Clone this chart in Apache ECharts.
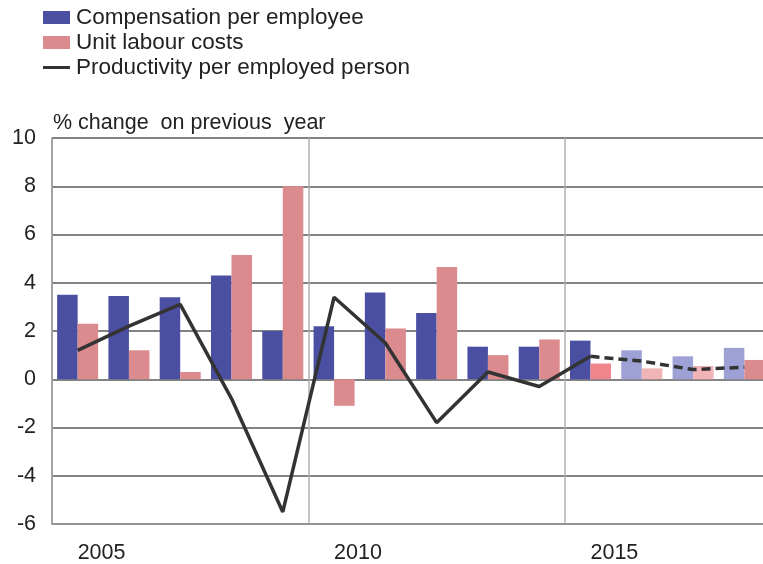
<!DOCTYPE html>
<html>
<head>
<meta charset="utf-8">
<script src="https://cdn.jsdelivr.net/npm/echarts@6/dist/echarts.min.js"></script>
<style>
  html, body { margin: 0; padding: 0; background: #fff; overflow: hidden; }
  /* the plot runs a little past the right edge of the picture */
  #main { width: 770px; height: 564px; }
</style>
</head>
<body>
<div id="main"></div>
<script>
// years on the x axis
var years = ['2005', '2006', '2007', '2008', '2009', '2010', '2011', '2012', '2013', '2014', '2015', '2016', '2017', '2018'];

// % change on previous year
var compensation = [3.5, 3.45, 3.4, 4.3, 2.0, 2.2, 3.6, 2.75, 1.35, 1.35, 1.6, 1.2, 0.95, 1.3];
var unitLabourCosts = [2.3, 1.2, 0.3, 5.15, 8.0, -1.1, 2.1, 4.65, 1.0, 1.65, 0.65, 0.45, 0.55, 0.8];
var productivity = [1.2, 2.2, 3.1, -0.8, -5.5, 3.4, 1.5, -1.8, 0.3, -0.3, 0.95, 0.75, 0.4, 0.5];

// productivity is solid up to this year, dashed after
var lastActual = 10;

var font = 'Liberation Sans, Arial, sans-serif';
var fs = 21.5;

// bar colours (lighter shades for the later years)
function compColor(i) {
  return i >= 11 ? '#9ea1d6' : '#4b4fa2';
}
function ulcColor(i) {
  if (i === 10) return '#f0868b';
  if (i === 11 || i === 12) return '#f0b3b6';
  return '#db8a8e';
}

var myChart = echarts.init(document.getElementById('main'));

var solidLine = productivity.map(function (v, i) { return i <= lastActual ? v : null; });
var dashedLine = productivity.map(function (v, i) { return i >= lastActual ? v : null; });

var option = {
  animation: false,
  textStyle: { fontFamily: font },
  title: {
    text: '% change  on previous  year',
    left: 53,
    top: 112,
    padding: 0,
    textStyle: { fontSize: fs, fontWeight: 'normal', color: '#222', fontFamily: font }
  },
  legend: {
    orient: 'vertical',
    left: 43,
    top: 6,
    itemWidth: 27,
    itemHeight: 13,
    itemGap: 2,
    padding: 0,
    data: [
      { name: 'Compensation per employee', icon: 'rect' },
      { name: 'Unit labour costs', icon: 'rect' },
      { name: 'Productivity per employed person', icon: 'path://M0,0 L27,0 L27,3 L0,3 Z' }
    ],
    textStyle: { fontSize: 22.5, color: '#222', fontFamily: font, padding: [0, 0, 0, 1] }
  },
  grid: {
    left: 52,
    right: 0,
    top: 138,
    bottom: 39
  },
  xAxis: {
    type: 'category',
    data: years,
    boundaryGap: true,
    axisLine: { onZero: false, lineStyle: { color: '#999', width: 1.5 } },
    axisTick: { show: false },
    axisLabel: {
      interval: 4,
      align: 'left',
      margin: 18,
      fontSize: fs,
      color: '#222'
    },
    splitLine: {
      show: true,
      interval: 4,
      lineStyle: { color: '#b0b0b0', width: 1.5 }
    }
  },
  yAxis: {
    type: 'value',
    min: -6,
    max: 10,
    interval: 2,
    axisLine: { show: true, lineStyle: { color: '#999', width: 1.5 } },
    axisTick: { show: false },
    axisLabel: { fontSize: fs, color: '#222', margin: 16 },
    splitLine: { lineStyle: { color: '#5a5a5a', width: 1.5 } }
  },
  series: [
    {
      name: 'Compensation per employee',
      type: 'bar',
      barGap: '0%',
      barCategoryGap: '20%',
      itemStyle: { color: '#4b4fa2' },
      data: compensation.map(function (v, i) {
        return { value: v, itemStyle: { color: compColor(i) } };
      })
    },
    {
      name: 'Unit labour costs',
      type: 'bar',
      barGap: '0%',
      barCategoryGap: '20%',
      itemStyle: { color: '#db8a8e' },
      data: unitLabourCosts.map(function (v, i) {
        return { value: v, itemStyle: { color: ulcColor(i) } };
      })
    },
    {
      name: 'Productivity per employed person',
      type: 'line',
      symbol: 'none',
      lineStyle: { color: '#333', width: 3.5 },
      itemStyle: { color: '#333' },
      data: solidLine,
      z: 5
    },
    {
      name: 'projection',
      type: 'line',
      symbol: 'none',
      lineStyle: { color: '#333', width: 3.5, type: [9, 5] },
      data: dashedLine,
      z: 5
    }
  ]
};

myChart.setOption(option);
</script>
</body>
</html>
